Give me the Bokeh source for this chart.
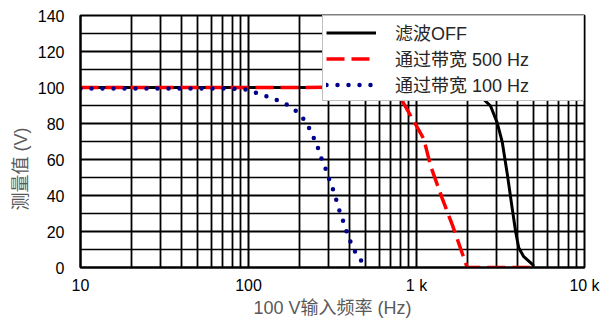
from bokeh.plotting import figure
from bokeh.models import FixedTicker, Legend, LegendItem, Title, Range1d
from bokeh.embed import file_html
from bokeh.resources import INLINE

# ---- data ----
off_freq = [10, 20, 50, 100, 200, 500, 1000, 1500, 2000, 2300, 2400, 2760, 3020,
            3240, 3470, 3710, 3890, 4060, 4350, 4770, 5000]
off_volt = [100, 100, 100, 100, 100, 100, 100, 100.5, 100, 97, 95.2, 89.7, 80.5,
            69.6, 52, 33, 20, 11, 6, 2.7, 0.8]

bw500_freq = [10, 20, 50, 100, 200, 300, 509, 639, 803, 986, 1105, 1211, 1422,
              1632, 2003, 3000, 5000]
bw500_volt = [100, 100, 100, 100, 100, 100.2, 100.3, 97.9, 94.3, 79.6, 71.4, 56.7,
              38.4, 23.8, 0, 0, 0]

bw100_freq = [10, 20, 30, 50, 70, 84, 97.3, 114.2, 131.5, 154.4, 178.6, 203.1,
              223.6, 239.4, 255, 267.2, 286.2, 302.3, 322, 337.3, 352.8, 372.7,
              390.1, 414.4, 441.2, 483.6]
bw100_volt = [99.5, 99.5, 99.5, 99.5, 99.5, 99.3, 98.8, 96.6, 94.8, 92.4, 89.3,
              85.0, 79.8, 73.8, 68.6, 62.2, 55.5, 49.0, 42.1, 35.7, 29.7, 23.8,
              17.7, 12.2, 6.8, 2.2]

series_labels = ["滤波OFF", "通过带宽 500 Hz", "通过带宽 100 Hz"]
x_ticks = [10, 100, 1000, 10000]
x_tick_labels = ["10", "100", "1 k", "10 k"]
y_ticks = [0, 20, 40, 60, 80, 100, 120, 140]
x_title = "100 V输入频率 (Hz)"
y_title = "测量值 (V)"

LAT = "Liberation Sans, Noto Sans CJK SC"
CJK = "Liberation Sans, Noto Sans CJK SC"

p = figure(width=604, height=320, x_axis_type="log",
           x_range=Range1d(10, 10000), y_range=Range1d(0, 140),
           output_backend="svg", toolbar_location=None,
           min_border_left=80, min_border_right=20, min_border_top=15,
           min_border_bottom=50)
p.background_fill_color = "white"
p.border_fill_color = "white"
p.outline_line_color = "black"
p.outline_line_width = 2

# ticks
x_minor = [m * d for d in (10, 100, 1000) for m in range(2, 10)]
y_minor = [v + 10 for v in y_ticks[:-1]]
p.xaxis.ticker = FixedTicker(ticks=x_ticks, minor_ticks=x_minor)
p.yaxis.ticker = FixedTicker(ticks=y_ticks, minor_ticks=y_minor)
p.xaxis.major_label_overrides = {t: l for t, l in zip(x_ticks, x_tick_labels)}

for ax in (p.xaxis, p.yaxis):
    ax.major_tick_out = 0
    ax.major_tick_in = 0
    ax.minor_tick_out = 0
    ax.minor_tick_in = 0
    ax.axis_line_color = "black"
    ax.axis_line_width = 2
    ax.major_label_text_font = LAT
    ax.major_label_text_font_size = "16px"
    ax.major_label_text_color = "black"

p.yaxis.major_label_standoff = 16
p.xaxis.major_label_standoff = 9

p.xaxis.axis_label = x_title
p.xaxis.axis_label_text_font = CJK
p.xaxis.axis_label_text_font_size = "18px"
p.xaxis.axis_label_text_font_style = "normal"
p.xaxis.axis_label_text_color = "#595959"
p.xaxis.axis_label_standoff = 1

p.add_layout(Title(text=y_title, align="left", offset=57, standoff=8,
                   text_font=CJK, text_font_size="18px", text_font_style="normal",
                   text_color="#595959"), "left")

# grid
p.xgrid.grid_line_color = "black"
p.xgrid.grid_line_width = 2
p.xgrid.minor_grid_line_color = "black"
p.xgrid.minor_grid_line_width = 1.8
p.ygrid.grid_line_color = "black"
p.ygrid.grid_line_width = 2
p.ygrid.minor_grid_line_color = "black"
p.ygrid.minor_grid_line_width = 1.3

# series
r1 = p.line(off_freq, off_volt, line_color="black", line_width=3)
r2 = p.line(bw500_freq, bw500_volt, line_color="#FF0000", line_width=3.5,
            line_dash="18 7")
r3 = p.line(bw100_freq, bw100_volt, line_color="#00008B", line_width=4.5,
            line_dash="0 11", line_cap="round")

legend = Legend(items=[LegendItem(label=series_labels[0], renderers=[r1]),
                       LegendItem(label=series_labels[1], renderers=[r2]),
                       LegendItem(label=series_labels[2], renderers=[r3])],
                location="top_right", margin=0, padding=3, spacing=0,
                glyph_width=50, glyph_height=21, label_height=21,
                label_standoff=19, label_width=185,
                label_text_font=CJK, label_text_font_size="18px",
                label_text_color="#262626",
                border_line_color="#808080", border_line_width=1.5,
                background_fill_color="white", background_fill_alpha=1)
p.add_layout(legend)

open("out.html", "w").write(file_html(p, INLINE))
